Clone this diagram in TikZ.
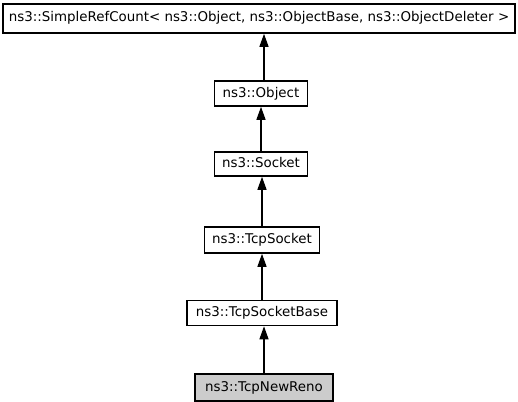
\documentclass[tikz,border=0pt]{standalone}
\usepackage{fontspec}
\setmainfont{DejaVu Sans}
\usetikzlibrary{arrows.meta}
\begin{document}
\begin{tikzpicture}[x=1pt,y=-1pt,
  cls/.style={draw=black,line width=1.6pt,fill=white,inner sep=0pt,font=\fontsize{13.4}{15}\selectfont,text height=10pt,text depth=3pt},
  cur/.style={cls,fill=black!20},
  inh/.style={line width=1.3pt,-{Triangle[length=13pt,width=9pt]}}]
\useasboundingbox (0,0) rectangle (518,401);
\node[cls,minimum width=512pt,minimum height=29pt] (src) at (259,18.5) {ns3::SimpleRefCount< ns3::Object, ns3::ObjectBase, ns3::ObjectDeleter >};
\node[cls,minimum width=93pt,minimum height=25pt] (obj) at (261,93.5) {ns3::Object};
\node[cls,minimum width=93pt,minimum height=24pt] (sock) at (261,164) {ns3::Socket};
\node[cls,minimum width=115pt,minimum height=26pt] (tcps) at (262,240) {ns3::TcpSocket};
\node[cls,minimum width=150pt,minimum height=25pt] (tcpb) at (262,313) {ns3::TcpSocketBase};
\node[cur,minimum width=138pt,minimum height=27pt] (reno) at (264,387.5) {ns3::TcpNewReno};
\draw[inh] (obj.north -| 264,0) -- (src.south -| 264,0);
\draw[inh] (sock.north) -- (obj.south);
\draw[inh] (tcps.north) -- (tcps.north |- sock.south);
\draw[inh] (tcpb.north) -- (tcpb.north |- tcps.south);
\draw[inh] (reno.north) -- (reno.north |- tcpb.south);
\end{tikzpicture}
\end{document}
